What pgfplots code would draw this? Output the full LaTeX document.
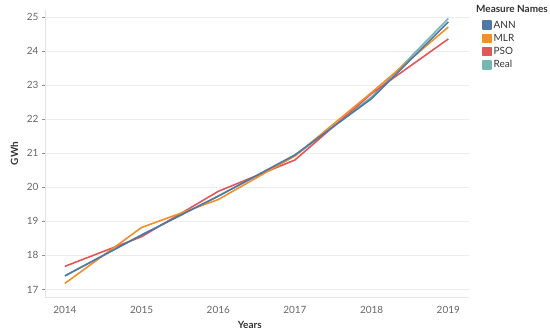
\documentclass[border=0pt]{standalone}
\usepackage{pgfplots}
\pgfplotsset{compat=1.18}
\usepackage{fontspec}
\setmainfont{Lato}
\definecolor{cANN}{HTML}{4E79A7}
\definecolor{cMLR}{HTML}{F28E2B}
\definecolor{cPSO}{HTML}{E15759}
\definecolor{cReal}{HTML}{76B7B2}
\definecolor{tickgray}{HTML}{666666}
\definecolor{labgray}{HTML}{333333}
\begin{document}
\begin{tikzpicture}
\path[use as bounding box] (-45bp,-38bp) rectangle (505bp,297bp);
\begin{axis}[
  scale only axis,
  width=424bp, height=287bp,
  xmin=2013.74, xmax=2019.27,
  ymin=16.78, ymax=25.2,
  xtick={2014,2015,2016,2017,2018,2019},
  ytick={17,18,19,20,21,22,23,24,25},
  xticklabel style={/pgf/number format/set thousands separator={}, yshift=-3bp},
  /pgf/number format/assume math mode=true,
  ticklabel style={font=\fontsize{10}{12}\selectfont, text=tickgray},
  axis x line*=bottom, axis y line*=left,
  axis line style={draw=black!10},
  x axis line style={-}, y axis line style={-},
  xtick style={draw=none},
  ytick style={draw=black!45, line width=0.6pt},
  tick align=outside, major tick length=3bp,
  ymajorgrids, grid style={draw=black!7, line width=0.6pt},
  xlabel={\textbf{Years}}, ylabel={\textbf{GWh}},
  label style={font=\fontsize{10}{12}\selectfont, text=labgray},
  xlabel style={at={(0.483,0)}, anchor=center, yshift=-28bp},
  ylabel style={yshift=2bp},
  legend style={at={(1.028,0.973)}, anchor=north west, draw=none, fill=none,
    font=\fontsize{10}{12}\selectfont, text=labgray, row sep=0.5pt,
    inner sep=1pt},
  legend cell align=left,
  legend image code/.code={\fill[#1] (0bp,-4bp) rectangle (8bp,4bp);},
  every axis plot/.append style={line width=1.6pt, line join=round},
]
\addlegendimage{cANN}\addlegendentry{ANN}
\addlegendimage{cMLR}\addlegendentry{MLR}
\addlegendimage{cPSO}\addlegendentry{PSO}
\addlegendimage{cReal}\addlegendentry{Real}
\addplot[cReal, forget plot] coordinates {(2014,17.40) (2015,18.60) (2016,19.74) (2017,20.92) (2018,22.65) (2019,24.95)};
\addplot[cPSO, forget plot] coordinates {(2014,17.68) (2015,18.55) (2016,19.88) (2017,20.80) (2018,22.75) (2019,24.35)};
\addplot[cMLR, forget plot] coordinates {(2014,17.18) (2015,18.82) (2016,19.64) (2017,20.92) (2018,22.78) (2019,24.70)};
\addplot[cANN, forget plot] coordinates {(2014,17.40) (2015,18.60) (2016,19.74) (2017,20.95) (2018,22.60) (2019,24.85)};
\end{axis}
\node[anchor=north west, inner sep=0pt, font=\fontsize{10}{12}\selectfont\bfseries, text=labgray] at (431bp,292bp) {Measure Names};
\end{tikzpicture}
\end{document}
